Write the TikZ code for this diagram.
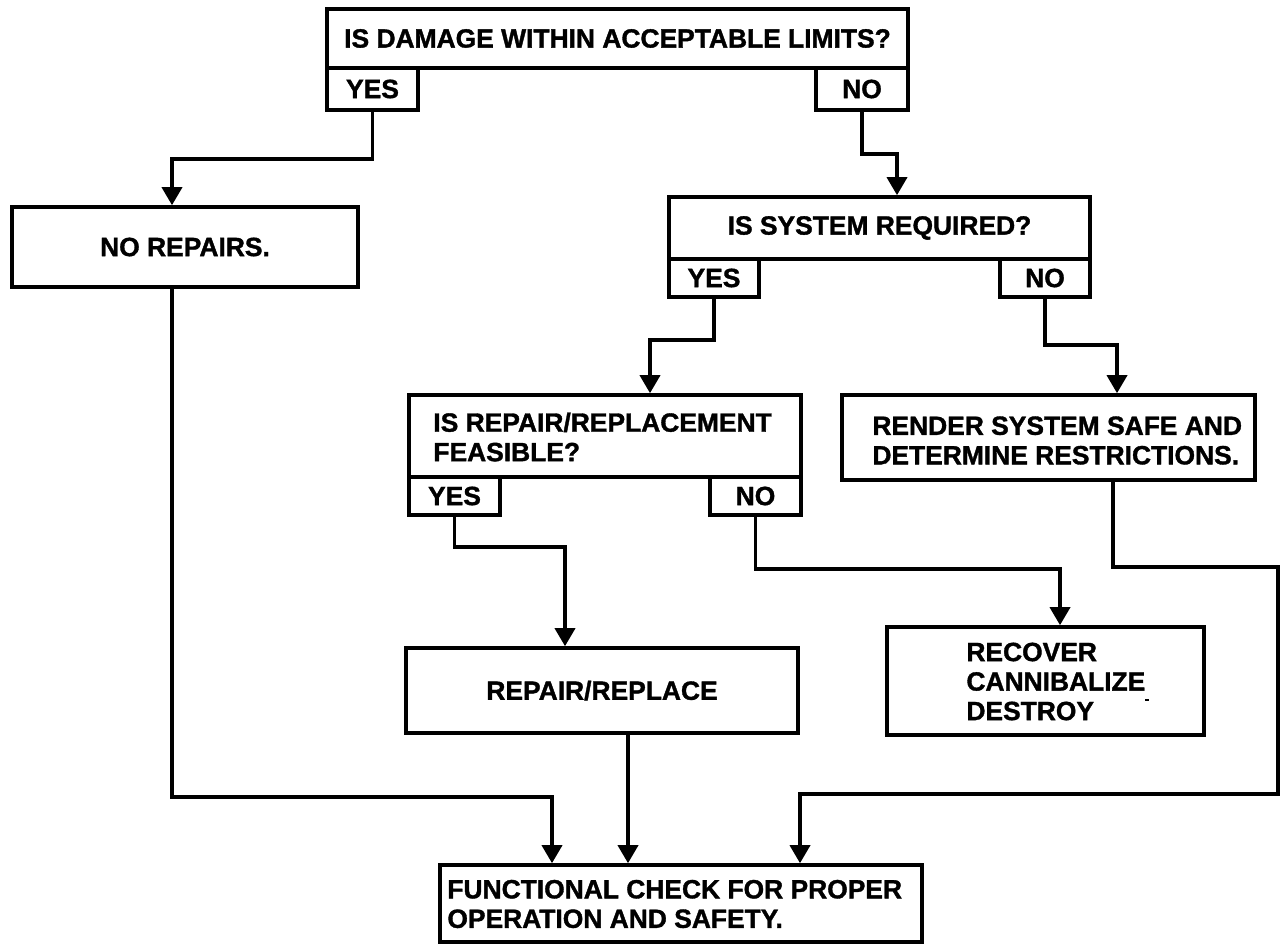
\documentclass[tikz,border=0pt]{standalone}
\usepackage{fontspec}
\setmainfont[FakeBold=1.3]{Liberation Sans}
\usetikzlibrary{arrows.meta}
\newcommand\chartfont{\fontsize{13.2}{14.75}\selectfont\bfseries}
\begin{document}
\begin{tikzpicture}[x=0.5pt,y=-0.5pt,
  box/.style={draw,line width=1.8pt,rectangle,inner sep=0pt,font=\chartfont},
  lbl/.style={inner sep=0pt,align=left,font=\chartfont,anchor=west},
  link/.style={line width=1.8pt,-{Triangle[length=9pt,width=10pt]}},
]
\useasboundingbox (0,0) rectangle (1283,946);

% first decision
\node[box,minimum width=290.5pt,minimum height=29.5pt] (q1) at (617.5,38.5) {IS DAMAGE WITHIN ACCEPTABLE LIMITS?};
\node[box,minimum width=45.5pt,minimum height=21pt] (q1yes) at (372.5,89) {YES};
\node[box,minimum width=46pt,minimum height=21pt] (q1no) at (862,89) {NO};

\node[box,minimum width=173pt,minimum height=40pt] (norep) at (185,247) {NO REPAIRS.};

% second decision
\node[box,minimum width=210.5pt,minimum height=31pt] (q2) at (879.5,228) {IS SYSTEM REQUIRED?};
\node[box,minimum width=45pt,minimum height=19pt] (q2yes) at (714,278) {YES};
\node[box,minimum width=45pt,minimum height=19pt] (q2no) at (1045,278) {NO};

% third decision
\node[box,minimum width=196pt,minimum height=41pt] (q3) at (605,436) {};
\node[lbl] (q3txt) at (433,437) {IS REPAIR/REPLACEMENT\\FEASIBLE?};
\node[box,minimum width=45.5pt,minimum height=19pt] (q3yes) at (454.5,496) {YES};
\node[box,minimum width=45.5pt,minimum height=19pt] (q3no) at (755.5,496) {NO};

\node[box,minimum width=206.5pt,minimum height=42.5pt] (render) at (1048.5,437.5) {};
\node[lbl] (rendertxt) at (872,440.5) {RENDER SYSTEM SAFE AND\\DETERMINE RESTRICTIONS.};

\node[box,minimum width=196pt,minimum height=42.5pt] (repair) at (602,690.5) {REPAIR/REPLACE};

\node[box,minimum width=158.5pt,minimum height=54pt] (recover) at (1045.5,681) {};
\node[lbl] (recovertxt) at (966,681.5) {RECOVER\\CANNIBALIZE\\DESTROY};
\fill (1145,699) rectangle (1149,701);

\node[box,minimum width=241pt,minimum height=38.5pt] (func) at (681,903.5) {};
\node[lbl] (functxt) at (447,904) {FUNCTIONAL CHECK FOR PROPER\\OPERATION AND SAFETY.};

% connectors
\draw[link] (q1yes.south) -- ++(0,47) -| ([xshift=-6.5pt]norep.north);
\draw[link] (q1no.south) -- ++(0,42) -| ([xshift=8.75pt]q2.north);
\draw[link] (q2yes.south) -- ++(0,41) -| ([xshift=22.5pt]q3.north);
\draw[link] (q2no.south) -- ++(0,46) -| ([xshift=34.25pt]render.north);
\draw[link] (q3yes.south) -- ++(0,30) -| ([xshift=-18.5pt]repair.north);
\draw[link] (q3no.south) -- ++(0,52) -| ([xshift=7.25pt]recover.north);
\draw[link] ([xshift=-6.5pt]norep.south) -- ++(0,508) -| ([xshift=-64.5pt]func.north);
\draw[link] ([xshift=13pt]repair.south) -- ([xshift=13pt]repair.south |- func.north);
\draw[link] ([xshift=32.25pt]render.south) -- ++(0,85) -- ++(165,0) -- ++(0,227) -| ([xshift=59.5pt]func.north);
\end{tikzpicture}
\end{document}
